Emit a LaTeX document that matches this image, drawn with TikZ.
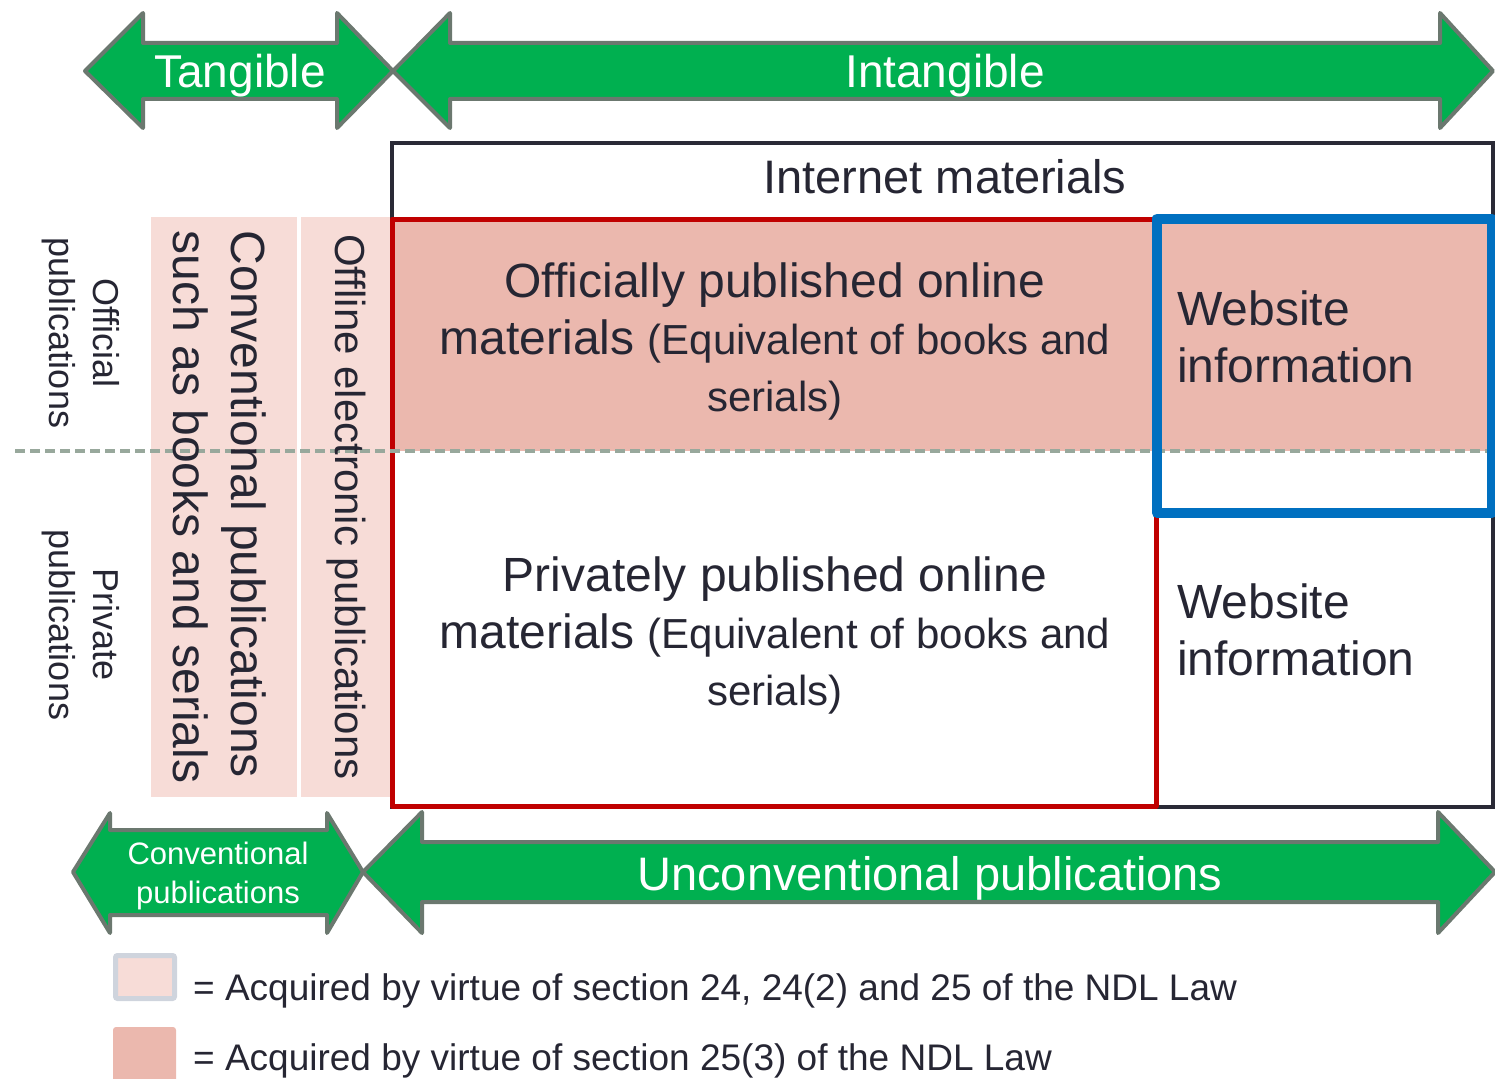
\documentclass[tikz,border=0pt]{standalone}
\usepackage{fontspec}
\setmainfont{Liberation Sans}
\definecolor{arrgreen}{HTML}{00B050}
\definecolor{arrline}{HTML}{6B786F}
\definecolor{pinkdark}{HTML}{EBB8AE}
\definecolor{pinklight}{HTML}{F7DCD7}
\definecolor{redline}{HTML}{C00000}
\definecolor{blueline}{HTML}{0070C0}
\definecolor{boxdark}{HTML}{2A2A36}
\definecolor{txtdark}{HTML}{262633}
\definecolor{dashgrey}{HTML}{98A89C}
\definecolor{legframe}{HTML}{CFD4DD}
\newcommand\fsz[2]{\fontsize{#1}{#2}\selectfont}
\tikzset{
  bigarrow/.style={fill=arrgreen, draw=arrline, line width=4pt, line join=round},
  arrtext/.style={text=white, inner sep=0pt},
  maintext/.style={text=txtdark, inner sep=0pt},
}
\begin{document}
\begin{tikzpicture}[x=1pt,y=-1pt]
\useasboundingbox (0,0) rectangle (1495,1078);
\clip (0,0) rectangle (1495,1078);

% top arrows
\draw[bigarrow] (85,71) -- (143,13) -- (143,43) -- (337,43) -- (337,13) -- (393,71)
  -- (337,128) -- (337,99) -- (143,99) -- (143,128) -- cycle;
\draw[bigarrow] (393,71) -- (450,13) -- (450,43) -- (1440,43) -- (1440,13) -- (1493,71)
  -- (1440,128) -- (1440,99) -- (450,99) -- (450,128) -- cycle;
\node[arrtext, font=\fsz{46}{55}] (tang) at (240,76) {Tangible};
\node[arrtext, font=\fsz{46}{55}] (intang) at (945,76) {Intangible};

% left light pink columns
\fill[pinklight] (151,217) rectangle (297,797);
\fill[pinklight] (301,217) rectangle (390,797);

% dark pink fill upper region
\fill[pinkdark] (392,219) rectangle (1493,451);

% internet materials box
\draw[boxdark, line width=4pt] (392,143) rectangle (1493,807);
\node[maintext, font=\fsz{47}{56}] (inet) at (945,177) {Internet materials};

% red box
\draw[redline, line width=5pt, line join=round] (392,219) rectangle (1156,806);

% dashed separator
\draw[dashgrey, line width=3.5pt, dash pattern=on 10pt off 5pt] (15,451) -- (1495,451);

% blue box
\draw[blueline, line width=10pt, line join=round] (1157,218.5) rectangle (1492,513);

% main texts
\node[maintext, align=center, font=\fsz{48}{57}] (offic) at (775,341)
  {Officially published online\\materials {\fsz{42}{57}(Equivalent of books and}\\{\fsz{42}{57}serials)}};
\node[maintext, align=center, font=\fsz{48}{57}] (priv) at (775,635)
  {Privately published online\\materials {\fsz{42}{57}(Equivalent of books and}\\{\fsz{42}{57}serials)}};
\node[maintext, align=left, anchor=west, font=\fsz{48}{57}] (web1) at (1177,337)
  {Website\\information};
\node[maintext, align=left, anchor=west, font=\fsz{48}{57}] (web2) at (1177,630)
  {Website\\information};

% rotated left texts
\node[maintext, align=center, rotate=-90, font=\fsz{36}{44}] (offpub) at (81,333)
  {Official\\publications};
\node[maintext, align=center, rotate=-90, font=\fsz{36}{44}] (privpub) at (81,625)
  {Private\\publications};
\node[maintext, align=left, rotate=-90, font=\fsz{48}{58}] (conv) at (220,507)
  {Conventional publications\\such as books and serials};
\node[maintext, rotate=-90, font=\fsz{42}{50}] (offline) at (346,507)
  {Offline electronic publications};

% bottom arrows
\draw[bigarrow] (73,872) -- (110,813) -- (110,830) -- (327,830) -- (327,813) -- (363,872)
  -- (327,933) -- (327,915) -- (110,915) -- (110,933) -- cycle;
\draw[bigarrow] (363,872) -- (422,812) -- (422,842) -- (1438,842) -- (1438,812) -- (1495,872)
  -- (1438,933) -- (1438,902) -- (422,902) -- (422,933) -- cycle;
\node[arrtext, align=center, font=\fsz{31}{39}] (convpub) at (218,876)
  {Conventional\\publications};
\node[arrtext, font=\fsz{47}{56}] (unconv) at (930,878) {Unconventional publications};

% legend
\filldraw[fill=pinklight, draw=legframe, line width=5pt, rounded corners=2pt] (115.5,955.5) rectangle (174.5,998.5);
\fill[pinkdark, rounded corners=3pt] (113,1027) rectangle (176,1085);
\node[maintext, anchor=west, font=\fsz{37}{44}] (leg1) at (193,991)
  {= Acquired by virtue of section 24, 24(2) and 25 of the NDL Law};
\node[maintext, anchor=west, font=\fsz{37}{44}] (leg2) at (193,1061)
  {= Acquired by virtue of section 25(3) of the NDL Law};
\end{tikzpicture}
\end{document}
